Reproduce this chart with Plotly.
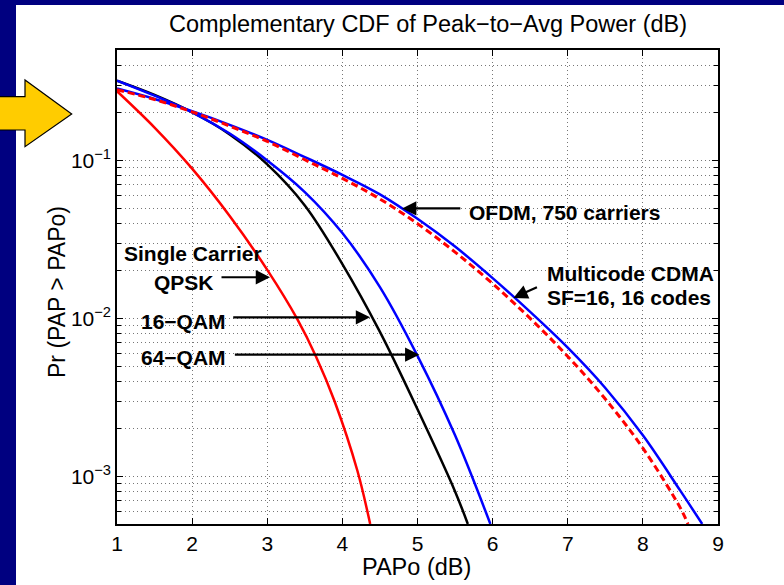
import math
import plotly.graph_objects as go

# ---------------- data ----------------
qpsk_x = [1.0, 1.5, 2.0, 2.5, 3.0, 3.4, 3.65, 3.9, 4.2, 4.37]
qpsk_y = [0.274, 0.1614, 0.0887, 0.0445, 0.0203, 0.0099, 0.00573, 0.00296, 0.001086, 0.0005]

qam16_x = [1.0, 1.5, 2.0, 2.5, 3.0, 3.5, 4.0, 4.5, 5.0, 5.5, 5.67]
qam16_y = [0.32, 0.260, 0.2018, 0.1462, 0.0944, 0.0519, 0.0221, 0.00822, 0.00266, 0.000804, 0.0005]

qam64_x = [1.0, 1.5, 2.0, 2.5, 3.0, 3.5, 4.0, 4.5, 5.0, 5.5, 5.97]
qam64_y = [0.32, 0.257, 0.2018, 0.148, 0.100, 0.0631, 0.0347, 0.0158, 0.0058, 0.00182, 0.0005]

ofdm_x = [1.0, 1.5, 2.0, 2.5, 3.0, 3.5, 4.0, 4.5, 5.0, 5.5, 6.0, 6.5, 7.0, 7.5, 8.0, 8.5, 8.79]
ofdm_y = [0.285, 0.245, 0.205, 0.168, 0.135, 0.105, 0.081, 0.061, 0.0427, 0.0285, 0.018,
          0.011, 0.00653, 0.00363, 0.00182, 0.00081, 0.0005]

cdma_x = [1.0, 1.5, 2.0, 2.5, 3.0, 3.5, 4.0, 4.5, 5.0, 5.5, 6.0, 6.5, 7.0, 7.5, 8.0, 8.5, 8.6]
cdma_y = [0.28, 0.243, 0.203, 0.165, 0.132, 0.101, 0.077, 0.057, 0.0398, 0.0263, 0.0166,
          0.0100, 0.00575, 0.00309, 0.00151, 0.00063, 0.0005]

x_ticks = [1, 2, 3, 4, 5, 6, 7, 8, 9]
y_ticks = [1e-3, 1e-2, 1e-1]
y_ticktext = ["10<sup>−3</sup>", "10<sup>−2</sup>", "10<sup>−1</sup>"]
y_minor = [m * 10.0 ** e for e in (-4, -3, -2, -1) for m in range(2, 10)
           if 5e-4 <= m * 10.0 ** e <= 0.5]

title_text = "Complementary CDF of Peak−to−Avg Power (dB)"
xlabel = "PAPo (dB)"
ylabel = "Pr (PAP > PAPo)"

# annotation arrows: (tip_x, tip_y, tail_x, tail_y) in data units
arrows = [
    (3.037, 0.01822, 2.371, 0.01822),   # QPSK
    (4.369, 0.01016, 2.527, 0.01016),   # 16-QAM
    (5.025, 0.0059, 2.549, 0.0059),     # 64-QAM
    (4.795, 0.0497, 5.590, 0.0497),     # OFDM
    (6.277, 0.01349, 6.610, 0.01592),   # CDMA
]
# labels: (text, x, y, xanchor)
labels = [
    ("Single Carrier", 2.014, 0.02565, "center"),
    ("QPSK", 1.895, 0.01698, "center"),
    ("16−QAM", 2.482, 0.0096, "right"),
    ("64−QAM", 2.482, 0.00566, "right"),
    ("OFDM, 750 carriers", 5.657, 0.0470, "left"),
    ("Multicode CDMA", 6.699, 0.0193, "left"),
    ("SF=16, 16 codes", 6.699, 0.01349, "left"),
]

# ---------------- layout geometry ----------------
W, H = 784, 585
L, R, T, B = 117, 718, 50, 524


def pxx(x):
    return (x - L) / (R - L)


def pxy(y):
    return (B - y) / (B - T)


FONT = "Liberation Sans, Arial, Helvetica, sans-serif"
NAVY = "#000080"

fig = go.Figure()
fig.add_trace(go.Scatter(x=qpsk_x, y=qpsk_y, mode="lines", line=dict(color="#ff0000", width=2.5, shape="spline")))
fig.add_trace(go.Scatter(x=qam16_x, y=qam16_y, mode="lines", line=dict(color="#000000", width=2.5, shape="spline")))
fig.add_trace(go.Scatter(x=qam64_x, y=qam64_y, mode="lines", line=dict(color="#0000ff", width=2.5, shape="spline")))
fig.add_trace(go.Scatter(x=ofdm_x, y=ofdm_y, mode="lines", line=dict(color="#0000ff", width=2.5, shape="spline")))
fig.add_trace(go.Scatter(x=cdma_x, y=cdma_y, mode="lines",
                         line=dict(color="#ff0000", width=3, shape="spline", dash="7px,4px")))

annotations = []
for tx, ty, ax, ay in arrows:
    annotations.append(dict(x=tx, y=math.log10(ty), ax=ax, ay=math.log10(ay),
                            xref="x", yref="y", axref="x", ayref="y",
                            text="", showarrow=True, arrowhead=2, arrowsize=1.3, arrowwidth=2.2,
                            arrowcolor="black"))
for txt, x, y, xa in labels:
    annotations.append(dict(x=x, y=math.log10(y), xref="x", yref="y", text="<b>" + txt + "</b>",
                            showarrow=False, xanchor=xa, yanchor="middle",
                            font=dict(family=FONT, size=21, color="black")))
annotations.append(dict(x=pxx(428), y=pxy(24), xref="paper", yref="paper", text=title_text,
                        showarrow=False, xanchor="center", yanchor="middle",
                        font=dict(family=FONT, size=23.5, color="black")))
annotations.append(dict(x=pxx(416.5), y=pxy(567), xref="paper", yref="paper", text=xlabel,
                        showarrow=False, xanchor="center", yanchor="middle",
                        font=dict(family=FONT, size=23.5, color="black")))
annotations.append(dict(x=pxx(57), y=pxy(292), xref="paper", yref="paper", text=ylabel, textangle=-90,
                        showarrow=False, xanchor="center", yanchor="middle",
                        font=dict(family=FONT, size=23, color="black")))

arrow_pts = [(-5, 96.7), (25, 96.7), (25, 80), (71.7, 114), (25, 146.7), (25, 130), (-5, 130)]
path = "M " + " L ".join(f"{pxx(a):.5f},{pxy(b):.5f}" for a, b in arrow_pts) + " Z"

shapes = [
    dict(type="rect", xref="paper", yref="paper", x0=pxx(16), x1=pxx(790), y0=pxy(5), y1=pxy(590),
         fillcolor="white", line=dict(width=0), layer="below"),
    dict(type="path", xref="paper", yref="paper", path=path, fillcolor="#ffcc00",
         line=dict(color="black", width=1.2), layer="above"),
]

grid = dict(showgrid=True, gridcolor="#777777", griddash="1px,3px", gridwidth=1)

fig.update_layout(
    width=W, height=H,
    margin=dict(l=L, r=W - R, t=T, b=H - B),
    paper_bgcolor=NAVY, plot_bgcolor="white",
    showlegend=False,
    annotations=annotations, shapes=shapes,
    font=dict(family=FONT, size=21, color="black"),
    xaxis=dict(range=[1, 9], tickvals=x_ticks, ticks="inside", ticklen=6, tickcolor="black",
               showline=True, linecolor="black", linewidth=1.5, mirror="ticks", zeroline=False,
               tickfont=dict(family=FONT, size=21, color="black"), **grid),
    yaxis=dict(type="log", range=[-3.30103, -0.30103], tickvals=y_ticks, ticktext=y_ticktext,
               ticks="inside", ticklen=6, tickcolor="black",
               showline=True, linecolor="black", linewidth=1.5, mirror="ticks", zeroline=False,
               tickfont=dict(family=FONT, size=21, color="black"),
               minor=dict(tickmode="array", tickvals=y_minor, ticks="inside", ticklen=4,
                          tickcolor="black", showgrid=True, gridcolor="#777777",
                          griddash="1px,3px", gridwidth=1),
               **grid),
)

fig.write_html("out.html")
